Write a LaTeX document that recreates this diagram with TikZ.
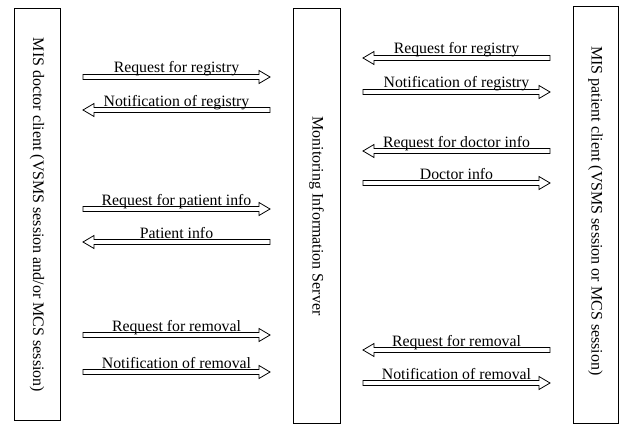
\documentclass[tikz,border=0pt]{standalone}
\usepackage{fontspec}
\setmainfont{Liberation Serif}
\begin{document}
\begin{tikzpicture}[x=1pt,y=-1pt,
  box/.style={draw=black,line width=0.9pt},
  lbl/.style={font=\fontsize{15.8}{18}\selectfont,anchor=base,inner sep=0pt},
  vlbl/.style={font=\fontsize{16}{18}\selectfont,rotate=-90,inner sep=0pt},
  harr/.style={draw=black,line width=0.8pt,fill=white}]
\useasboundingbox (0,0) rectangle (621,428);
% boxes
\draw[box] (14,8) rectangle (60,420);
\draw[box] (293,8) rectangle (340,423);
\draw[box] (573,6) rectangle (618,423);
\node[vlbl] (doc) at (37,215) {MIS doctor client (VSMS session and/or MCS session)};
\node[vlbl] (srv) at (316.5,216) {Monitoring Information Server};
\node[vlbl] (pat) at (595.5,211) {MIS patient client (VSMS session or MCS session)};
% right-pointing arrow: #1=x1,#2=x2,#3=y,#4=label
\newcommand{\rarr}[4]{%
  \draw[harr] (#1,#3-2.5) -- (#2-11,#3-2.5) -- (#2-11,#3-6.5) -- (#2,#3)
    -- (#2-11,#3+6.5) -- (#2-11,#3+2.5) -- (#1,#3+2.5) -- cycle;
  \node[lbl] at ({(#1+#2)/2},#3-4) {#4};}
\newcommand{\larr}[4]{%
  \draw[harr] (#2,#3-2.5) -- (#1+11,#3-2.5) -- (#1+11,#3-6.5) -- (#1,#3)
    -- (#1+11,#3+6.5) -- (#1+11,#3+2.5) -- (#2,#3+2.5) -- cycle;
  \node[lbl] at ({(#1+#2)/2},#3-4) {#4};}
% left side
\rarr{83}{270}{77}{Request for registry}
\larr{83}{270}{110}{Notification of registry}
\rarr{83}{270}{209}{Request for patient info}
\larr{83}{270}{242}{Patient info}
\rarr{83}{270}{335}{Request for removal}
\rarr{83}{270}{372}{Notification of removal}
% right side
\larr{363}{550}{58}{Request for registry}
\rarr{363}{550}{92}{Notification of registry}
\larr{363}{550}{151}{Request for doctor info}
\rarr{363}{550}{183}{Doctor info}
\larr{363}{550}{350}{Request for removal}
\rarr{363}{550}{383}{Notification of removal}
\end{tikzpicture}
\end{document}
